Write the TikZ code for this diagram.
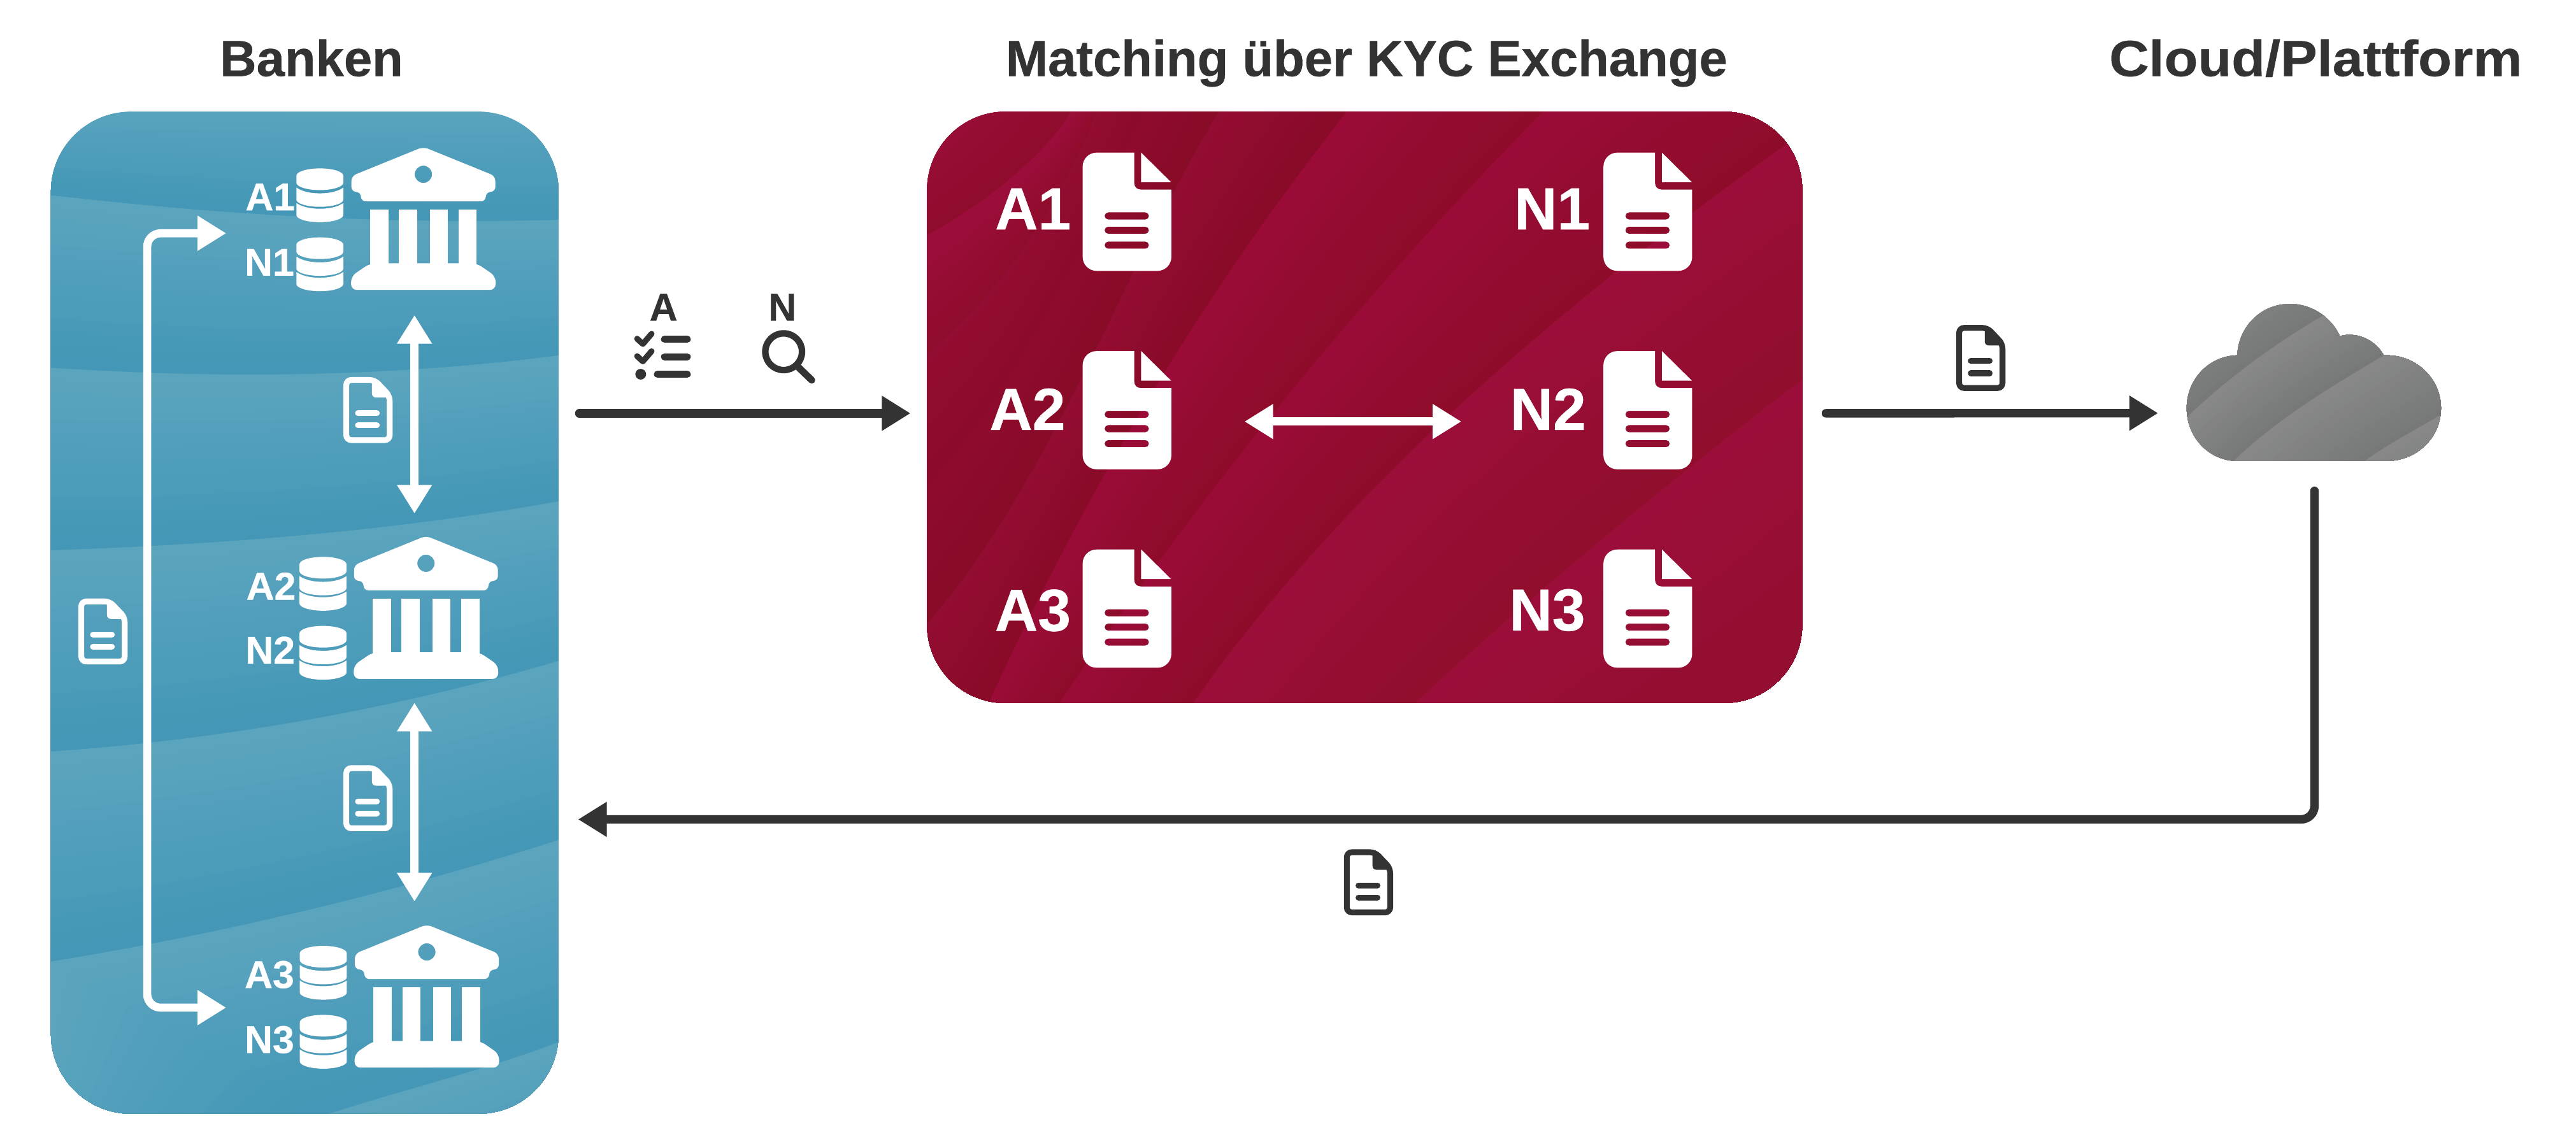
\documentclass[tikz,border=0pt]{standalone}
\usepackage{fontspec}
\setmainfont{Liberation Sans}[BoldFeatures={FakeBold=0.5}]
\usetikzlibrary{arrows.meta}
\definecolor{ink}{HTML}{333333}
\definecolor{bl}{HTML}{5BA4BE}
\definecolor{bd}{HTML}{4296B6}
\definecolor{ra}{HTML}{9C0D3B}\definecolor{rb}{HTML}{8F0C2B}
\definecolor{rc}{HTML}{930C31}\definecolor{rd}{HTML}{8C0B29}
\definecolor{re}{HTML}{8F0B2D}\definecolor{rf}{HTML}{880B27}
\definecolor{rg}{HTML}{9A0C37}\definecolor{rh}{HTML}{8D0C29}
\definecolor{ri}{HTML}{9B0E39}\definecolor{rj}{HTML}{900E2C}
\definecolor{gl}{HTML}{888888}
\definecolor{gd}{HTML}{767878}
\def\parseA#1,#2,#3,#4,#5,#6,#7,#8\relax{\def\bAa{#1}\def\bAb{#2}\def\bAc{#3}\def\bAd{#4}\def\bAe{#5}\def\bAf{#6}\def\bAg{#7}\def\bAh{#8}}
\def\parseB#1,#2,#3,#4,#5,#6,#7,#8\relax{\def\bBa{#1}\def\bBb{#2}\def\bBc{#3}\def\bBd{#4}\def\bBe{#5}\def\bBf{#6}\def\bBg{#7}\def\bBh{#8}}
% one colour band: strips between curve #1 and curve #2, colour #3 to #4
\newcommand\bandfill[4]{%
  \parseA#1\relax\parseB#2\relax
  \foreach \kk in {0,...,13}{%
    \pgfmathsetmacro\tval{\kk/14}%
    \pgfmathsetmacro\pa{\bAa+(\bBa-\bAa)*\tval}\pgfmathsetmacro\pb{\bAb+(\bBb-\bAb)*\tval}%
    \pgfmathsetmacro\pc{\bAc+(\bBc-\bAc)*\tval}\pgfmathsetmacro\pd{\bAd+(\bBd-\bAd)*\tval}%
    \pgfmathsetmacro\pe{\bAe+(\bBe-\bAe)*\tval}\pgfmathsetmacro\pf{\bAf+(\bBf-\bAf)*\tval}%
    \pgfmathsetmacro\pg{\bAg+(\bBg-\bAg)*\tval}\pgfmathsetmacro\ph{\bAh+(\bBh-\bAh)*\tval}%
    \pgfmathsetmacro\mixv{100*(1-\tval)}%
    \fill[color=#3!\mixv!#4] (\pa,\pb) .. controls (\pc,\pd) and (\pe,\pf) .. (\pg,\ph) -- (ca) -- (cb) -- (cc) -- cycle;
  }%
}
\tikzset{
  titletext/.style={font=\bfseries\fontsize{22.66}{26}\selectfont,text=ink,anchor=base,inner sep=0pt},
  banklabel/.style={font=\bfseries\fontsize{17.3}{20}\selectfont,text=white,anchor=base,inner sep=0pt},
  biglabel/.style={font=\bfseries\fontsize{26.5}{30}\selectfont,text=white,anchor=base,inner sep=0pt},
  inklabel/.style={font=\bfseries\fontsize{17.3}{20}\selectfont,text=ink,anchor=base,inner sep=0pt},
  inkarrow/.style={draw=ink,line width=3.8pt,line cap=round,-{Triangle[length=12.8pt,width=14.8pt]}},
  whitearrow/.style={draw=white,line width=3.6pt,{Triangle[length=12.8pt,width=14.8pt]}-{Triangle[length=12.8pt,width=14.8pt]}},
  pics/bankicon/.style={code={
    \fill[even odd rule,rounded corners=2.2pt] (0,-0.8) -- (43.8,17) -- (43.8,26.6) -- (38,26.6) -- (38,32.4) -- (-38,32.4) -- (-38,26.6) -- (-43.8,26.6) -- (-43.8,17) -- cycle [sharp corners] (0,15.9) circle[radius=3.87pt];
    \fill (-32.4,37.5) rectangle (-21.3,72);
    \fill (-14.9,37.5) rectangle (-3.9,72);
    \fill (4,37.5) rectangle (14.8,72);
    \fill (21.4,37.5) rectangle (32.5,72);
    \fill[rounded corners=2.6pt] (-32.4,70.1) -- (0,70.1) -- (32.5,70.1) -- (44,78) -- (44,86.3) -- (-44,86.3) -- (-44,78) -- cycle;
  }},
  pics/dbstack/.style={code={
    \fill (-14.3,4.5) .. controls (-14.3,2) and (-7.9,0) .. (0,0) .. controls (7.9,0) and (14.3,2) .. (14.3,4.5) -- (14.3,8.7) .. controls (14.3,11.2) and (7.9,13.2) .. (0,13.2) .. controls (-7.9,13.2) and (-14.3,11.2) .. (-14.3,8.7) -- cycle;
    \foreach \dy in {0,9.4}{
      \fill[yshift=-\dy*0.7311pt] (-14.3,11.7) .. controls (-11,14) and (-6,15.2) .. (0,15.2) .. controls (6,15.2) and (11,14) .. (14.3,11.7) -- (14.3,19) .. controls (14.3,21.4) and (7.9,23.4) .. (0,23.4) .. controls (-7.9,23.4) and (-14.3,21.4) .. (-14.3,19) -- cycle;
    }
  }},
  pics/docline/.style={code={
    \draw[line width=2.6pt,rounded corners=2.2pt] (1.8,1.8) -- (19,1.8) -- (28.2,11.5) -- (28.2,38.4) -- (1.8,38.4) -- cycle;
    \fill (17.4,1) -- (19.4,1) -- (29.6,12.5) -- (20,12.5) .. controls (18.4,12.5) and (17.4,11.5) .. (17.4,10) -- cycle;
    \draw[line width=2.6pt,line cap=round] (8.9,22) -- (20.4,22);
    \draw[line width=2.6pt,line cap=round] (8.9,29.4) -- (20.4,29.4);
  }},
  pics/docfill/.style={code={
    \fill[even odd rule] (8.5,0) -- (31.4,0) -- (31.4,18.5) .. controls (31.4,21) and (33,22.5) .. (35.5,22.5) -- (54,22.5) -- (54,63.5) .. controls (54,68.2) and (50.2,72) .. (45.5,72) -- (8.5,72) .. controls (3.8,72) and (0,68.2) .. (0,63.5) -- (0,8.5) .. controls (0,3.8) and (3.8,0) .. (8.5,0) -- cycle
      [rounded corners=1.5pt] (13.4,36.4) rectangle (40.3,40.7) (13.4,45.1) rectangle (40.3,49.4) (13.4,54.2) rectangle (40.3,58.5);
    \fill (35.6,0) -- (53.8,18) -- (35.6,18) -- cycle;
  }},
}
\begin{document}
\begin{tikzpicture}[x=0.025791cm,y=-0.025791cm]
\useasboundingbox (0,0) rectangle (1568,695.2);
\fill[white] (0,0) rectangle (1568,695.2);

% ---------- titles
\node[titletext] (tbanken) at (189.6,46.3) {Banken};
\node[titletext] (tmatch) at (831.8,46.3) {Matching über KYC Exchange};
\node[titletext] (tcloud) at (1409.5,46.3) {\scalebox{1.085}[1]{Cloud/Plattform}};

% ---------- blue panel
\begin{scope}
  \clip[rounded corners=35.8pt] (31,68) rectangle (340,678);
  \coordinate (ca) at (400,800); \coordinate (cb) at (0,800); \coordinate (cc) at (0,800);
  \bandfill{30,60,120,60,220,60,341,60}{30,118.7,120,129,220,137,341,133.8}{bl}{bd}
  \bandfill{30,118.7,120,129,220,137,341,133.8}{30,223.8,110,229,220,232,341,216.2}{bl}{bd}
  \bandfill{30,223.8,110,229,220,232,341,216.2}{30,335,120,332,230,325,341,305}{bl}{bd}
  \bandfill{30,335,120,332,230,325,341,305}{30,457.5,130,451,240,432,341,402}{bl}{bd}
  \bandfill{30,457.5,130,451,240,432,341,402}{30,585.5,150,566,250,540,341,511}{bl}{bd}
  \bandfill{30,585.5,150,566,250,540,341,511}{197,679,250,662,300,650,341,634}{bl}{bd}
  \bandfill{197,679,250,662,300,650,341,634}{300,760,340,740,360,720,380,700}{bl}{bd}
\end{scope}

% ---------- red panel
\begin{scope}
  \clip[rounded corners=35pt] (564.3,68) rectangle (1097,428);
  \coordinate (ca) at (1300,0); \coordinate (cb) at (1300,600); \coordinate (cc) at (400,600);
  \bandfill{540,90,550,80,560,70,575,55}{564.6,143,610,118,640,88,651.9,68}{ra}{rb}
  \bandfill{564.6,143,610,118,640,88,651.9,68}{564.6,214.7,617,172,652,109,667.5,68}{ra}{rb}
  \bandfill{564.6,214.7,617,172,652,109,667.5,68}{564.6,294.6,624,231,666,132,695.2,68}{rc}{rd}
  \bandfill{564.6,294.6,624,231,666,132,695.2,68}{564.6,379.1,638,297,690,151,741.9,68}{re}{rf}
  \bandfill{564.6,379.1,638,297,690,151,741.9,68}{601.7,428,662,297,732,179,819.8,68}{rc}{rf}
  \bandfill{601.7,428,662,297,732,179,819.8,68}{645,428,725,309,818,191,939.2,68}{rg}{rh}
  \bandfill{645,428,725,309,818,191,939.2,68}{726.3,428,818,297,957,179,1097,81}{rg}{rh}
  \bandfill{726.3,428,818,297,957,179,1097,81}{861.3,428,939,356,1026,285,1097,231}{ri}{rj}
  \bandfill{861.3,428,939,356,1026,285,1097,231}{1000,500,1100,450,1200,400,1250,300}{ri}{rj}
\end{scope}

% ---------- banks
\pic[color=white] (bank1) at (257.7,90.2) {bankicon};
\pic[color=white] (bank2) at (259.3,327) {bankicon};
\pic[color=white] (bank3) at (259.8,563.6) {bankicon};
\pic[color=white] (dba1) at (194.7,102.5) {dbstack};
\pic[color=white] (dbn1) at (194.7,144.5) {dbstack};
\pic[color=white] (dba2) at (196.6,339) {dbstack};
\pic[color=white] (dbn2) at (196.6,381) {dbstack};
\pic[color=white] (dba3) at (196.8,575.8) {dbstack};
\pic[color=white] (dbn3) at (196.8,617.8) {dbstack};
\node[banklabel] (la1) at (164.5,128) {A1};
\node[banklabel] (ln1) at (164,167.8) {N1};
\node[banklabel] (la2) at (165,365) {A2};
\node[banklabel] (ln2) at (164.5,404) {N2};
\node[banklabel] (la3) at (164,601.4) {A3};
\node[banklabel] (ln3) at (164,641) {N3};

% ---------- white connectors
\coordinate (wt1) at (137.7,142);
\coordinate (wc1) at (89.6,142);
\coordinate (wc2) at (89.6,613.4);
\coordinate (wt2) at (137.7,613.4);
\draw[whitearrow,rounded corners=6pt] (wt1) -- (wc1) -- (wc2) -- (wt2);
\coordinate (v1a) at (252.3,191.8); \coordinate (v1b) at (252.3,312.6);
\coordinate (v2a) at (252.3,427.8); \coordinate (v2b) at (252.3,548.8);
\coordinate (h1a) at (757.5,256.6); \coordinate (h1b) at (889.5,256.6);
\draw[whitearrow] (v1a) -- (v1b);
\draw[whitearrow] (v2a) -- (v2b);
\draw[whitearrow] (h1a) -- (h1b);

% ---------- outline documents
\pic[color=white] (d1) at (209,229.5) {docline};
\pic[color=white] (d2) at (209,465.8) {docline};
\pic[color=white] (d3) at (47.7,364.3) {docline};
\pic[color=ink] (d4) at (1190.7,197.8) {docline};
\pic[color=ink] (d5) at (818,517) {docline};

% ---------- red panel documents
\foreach \nm/\yy in {1/92.9,2/213.7,3/334.5}{
  \pic[color=white] (da\nm) at (659,\yy) {docfill};
  \pic[color=white] (dn\nm) at (976,\yy) {docfill};
}
\node[biglabel] (ba1) at (628.8,139.6) {A1};
\node[biglabel] (ba2) at (625.4,261.7) {A2};
\node[biglabel] (ba3) at (628.7,384) {A3};
\node[biglabel] (bn1) at (944.8,139.6) {N1};
\node[biglabel] (bn2) at (942.3,261.7) {N2};
\node[biglabel] (bn3) at (941.8,383.8) {N3};

% ---------- checklist and magnifier
\node[inklabel] (qa) at (403.9,195.2) {A};
\node[inklabel] (qn) at (476.2,195.2) {N};
\draw[ink,line width=2.6pt,line cap=round,line join=round] (387.8,206.2) -- (391.3,209.4) -- (396.6,203.2);
\draw[ink,line width=2.6pt,line cap=round,line join=round] (387.8,216.8) -- (391.3,220) -- (396.6,213.8);
\fill[ink] (390,227.8) circle[radius=2.4pt];
\draw[ink,line width=3.2pt,line cap=round] (404.5,206.5) -- (418.3,206.5);
\draw[ink,line width=3.2pt,line cap=round] (404.5,217.2) -- (418.3,217.2);
\draw[ink,line width=3.2pt,line cap=round] (400.2,227.8) -- (418.3,227.8);
\draw[ink,line width=2.9pt] (477,214.1) circle[radius=8.2pt];
\draw[ink,line width=3.1pt,line cap=round] (485.4,223) -- (494.1,231.4);

% ---------- cloud
\begin{scope}
  \clip (1361.8,280.6) .. controls (1344.7,280.6) and (1331,266.3) .. (1331,248.5)
    .. controls (1331,230.7) and (1344.7,216.6) .. (1361.8,216.3)
    .. controls (1362.5,199) and (1376,185) .. (1393.8,185)
    .. controls (1407,185) and (1419,193) .. (1424.3,204.7)
    .. controls (1426,204.1) and (1428,203.8) .. (1430,203.8)
    .. controls (1439,203.8) and (1447,209) .. (1451,216.3)
    .. controls (1451.7,216.3) and (1452.3,216.3) .. (1453,216.3)
    .. controls (1471,216.3) and (1485.8,230.7) .. (1485.8,248.5)
    .. controls (1485.8,266.3) and (1471,280.6) .. (1453,280.6) -- cycle;
  \coordinate (ca) at (1550,150); \coordinate (cb) at (1550,320); \coordinate (cc) at (1300,320);
  \bandfill{1320,205,1335,190,1350,175,1370,165}{1325,260,1350,235,1380,212,1413.5,192.4}{gl}{gd}
  \bandfill{1325,260,1350,235,1380,212,1413.5,192.4}{1355,285,1385,255,1420,235,1451,216.3}{gl}{gd}
  \bandfill{1355,285,1385,255,1420,235,1451,216.3}{1435,284,1450,272,1470,262,1490,250}{gl}{gd}
  \bandfill{1435,284,1450,272,1470,262,1490,250}{1470,310,1490,300,1510,290,1530,280}{gl}{gd}
\end{scope}
\coordinate (cloudin) at (1313.6,251.5);

% ---------- dark connectors
\coordinate (ma) at (352.6,251.6); \coordinate (mb) at (554.2,251.6);
\coordinate (mc) at (1111.4,251.6);
\coordinate (r0) at (1408.8,298.8); \coordinate (r1) at (1408.8,498.8); \coordinate (r2) at (351.9,498.8);
\draw[inkarrow] (ma) -- (mb);
\draw[inkarrow] (mc) -- (cloudin);
\draw[inkarrow,rounded corners=6pt] (r0) -- (r1) -- (r2);
\end{tikzpicture}
\end{document}
